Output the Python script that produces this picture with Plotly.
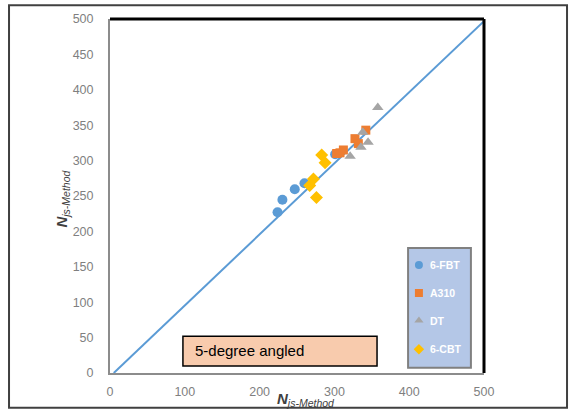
import plotly.graph_objects as go

# Predicted vs measured Njs values, grouped by impeller type
fbt_x = [224, 230.5, 247, 260, 301]
fbt_y = [227, 244.6, 259.5, 268, 309]

a310_x = [303, 307.5, 312, 327.5, 332, 342]
a310_y = [310, 311, 315, 331, 324, 343]

dt_x = [321, 335.5, 338, 345, 358]
dt_y = [306, 319, 340, 326, 375]

cbt_x = [267, 272, 276, 283, 287.5]
cbt_y = [265, 274, 248, 308, 297]

# Reference line
line_x = [5, 500]
line_y = [0, 497]

series = [
    ("6-FBT", fbt_x, fbt_y, "circle", "#5b9bd5", 10),
    ("A310", a310_x, a310_y, "square", "#ed7d31", 9),
    ("DT", dt_x, dt_y, "triangle-up", "#a5a5a5", 10),
    ("6-CBT", cbt_x, cbt_y, "diamond", "#ffc000", 10),
]

tick_vals_x = [0, 100, 200, 300, 400, 500]
tick_vals_y = [0, 50, 100, 150, 200, 250, 300, 350, 400, 450, 500]

fig = go.Figure()

fig.add_trace(go.Scatter(x=line_x, y=line_y, mode="lines",
                         line=dict(color="#5b9bd5", width=2),
                         showlegend=False, hoverinfo="skip"))

for name, xs, ys, sym, col, sz in series:
    fig.add_trace(go.Scatter(x=xs, y=ys, mode="markers", name=name,
                             marker=dict(symbol=sym, color=col, size=sz,
                                         line=dict(width=0)),
                             showlegend=False))

# Legend keys on an overlay axis spanning the plot area (0..1)
leg_x = 0.826
leg_y = [0.305, 0.226, 0.148, 0.067]
for (name, xs, ys, sym, col, sz), ly in zip(series, leg_y):
    fig.add_trace(go.Scatter(x=[leg_x], y=[ly], mode="markers",
                             xaxis="x2", yaxis="y2",
                             marker=dict(symbol=sym, color=col, size=8,
                                         line=dict(width=0)),
                             showlegend=False, hoverinfo="skip"))
    fig.add_annotation(x=0.850, y=ly, xref="paper", yref="paper",
                       text="<b>" + name + "</b>", showarrow=False,
                       xanchor="left", yanchor="middle",
                       font=dict(family="Liberation Sans", size=10.5,
                                 color="white"))

tick_font = dict(family="Liberation Sans", size=12.5, color="#7f7f7f")

fig.update_layout(
    width=572, height=412,
    margin=dict(l=110, r=88, t=16, b=39),
    paper_bgcolor="white", plot_bgcolor="white",
    xaxis=dict(range=[0, 500], tickvals=tick_vals_x, showgrid=False,
               zeroline=False, showline=True, linecolor="#8c8c8c",
               linewidth=2, ticks="", tickfont=tick_font,
               ticklabelstandoff=6),
    yaxis=dict(range=[0, 500], tickvals=tick_vals_y, showgrid=False,
               zeroline=False, showline=True, linecolor="#8c8c8c",
               linewidth=2, ticks="", tickfont=tick_font,
               ticklabelstandoff=12),
    xaxis2=dict(range=[0, 1], overlaying="x", visible=False,
                fixedrange=True),
    yaxis2=dict(range=[0, 1], overlaying="y", visible=False,
                fixedrange=True),
    showlegend=False,
)

shapes = [
    # outer frame
    dict(type="rect", xref="paper", yref="paper",
         x0=-0.270, x1=1.222, y0=-0.098, y1=1.039,
         line=dict(color="#404040", width=2), layer="below"),
    # plot area top and right edges
    dict(type="line", xref="paper", yref="paper", x0=0, x1=1, y0=1, y1=1,
         line=dict(color="black", width=3)),
    dict(type="line", xref="paper", yref="paper", x0=1, x1=1, y0=0, y1=1,
         line=dict(color="black", width=3)),
    # legend box
    dict(type="rect", xref="paper", yref="paper",
         x0=0.797, x1=0.965, y0=0.015, y1=0.353,
         line=dict(color="#808080", width=2), fillcolor="#b4c7e7",
         layer="below"),
    # label box
    dict(type="rect", xref="paper", yref="paper",
         x0=0.195, x1=0.714, y0=0.020, y1=0.104,
         line=dict(color="black", width=1.5), fillcolor="#f8cbad",
         layer="below"),
]
fig.update_layout(shapes=shapes)

fig.add_annotation(x=0.222, y=0.064, xref="paper", yref="paper",
                   text="5-degree angled", showarrow=False,
                   xanchor="left", yanchor="middle",
                   font=dict(family="Liberation Sans", size=15, color="black"))

title_text = "<b><i>N</i></b><sub><i>js-Method</i></sub>"
fig.add_annotation(x=0.523, y=-0.042, xref="paper", yref="paper",
                   text=title_text, showarrow=False,
                   xanchor="center", yanchor="top",
                   font=dict(family="Liberation Sans", size=15, color="#404040"))
fig.add_annotation(x=-0.128, y=0.493, xref="paper", yref="paper",
                   text=title_text, showarrow=False, textangle=-90,
                   xanchor="center", yanchor="middle",
                   font=dict(family="Liberation Sans", size=15, color="#404040"))

fig.write_html("out.html")
